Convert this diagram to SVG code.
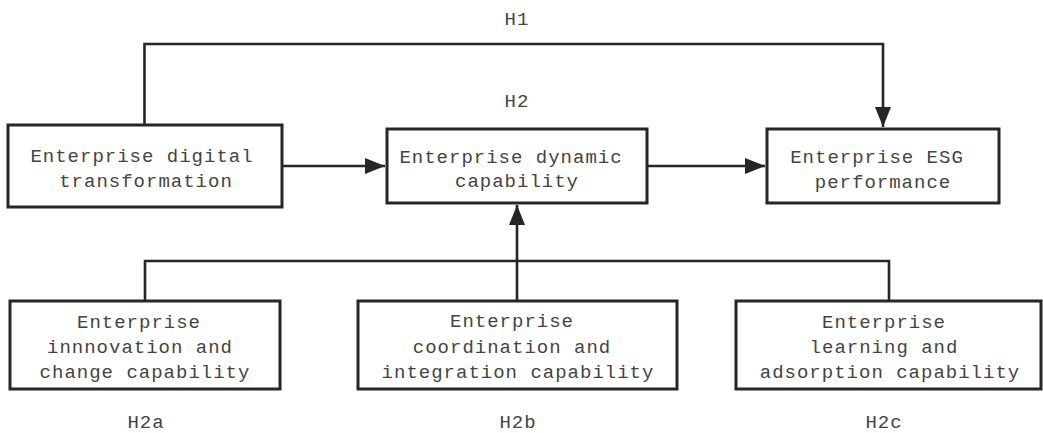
<svg xmlns="http://www.w3.org/2000/svg" width="1043" height="433" viewBox="0 0 1043 433">
<defs>
<style>
.box{fill:#fff;stroke:#262626;stroke-width:3}
.ln{fill:none;stroke:#262626;stroke-width:2.6}
.t{font-family:"Liberation Mono","DejaVu Sans Mono",monospace;font-size:19px;letter-spacing:1px;fill:#444;text-anchor:middle}
.h{font-family:"Liberation Serif","DejaVu Serif",serif;font-size:19px;fill:#444;text-anchor:middle}
</style>
<marker id="ah" viewBox="0 0 10 10" refX="10" refY="5" markerWidth="8" markerHeight="8" markerUnits="userSpaceOnUse" orient="auto">
<path d="M0,0 L10,5 L0,10 z" fill="#262626"/>
</marker>
<marker id="ah2" viewBox="0 0 20 20" refX="20" refY="10" markerWidth="20" markerHeight="20" markerUnits="userSpaceOnUse" orient="auto">
<path d="M0,2 L20,10 L0,18 z" fill="#262626"/>
</marker>
</defs>
<g id="connectors">
<path class="ln" d="M144.5,125 V44 H883 V127" marker-end="url(#ah2)"/>
<path class="ln" d="M282,166 H385" marker-end="url(#ah2)"/>
<path class="ln" d="M647,166 H765" marker-end="url(#ah2)"/>
<path class="ln" d="M517,301 V205" marker-end="url(#ah2)"/>
<path class="ln" d="M145,301 V261 H889 V301"/>
</g>
<g id="n1">
<rect class="box" x="8" y="125" width="274" height="82"/>
<text class="t" x="142" y="162">Enterprise digital</text>
<text class="t" x="146" y="187">transformation</text>
</g>
<g id="n2">
<rect class="box" x="387" y="129" width="260" height="74"/>
<text class="t" x="511" y="163">Enterprise dynamic</text>
<text class="t" x="517" y="187">capability</text>
</g>
<g id="n3">
<rect class="box" x="767" y="129" width="232" height="74"/>
<text class="t" x="877" y="163">Enterprise ESG</text>
<text class="t" x="883" y="188">performance</text>
</g>
<g id="n4">
<rect class="box" x="10" y="301" width="270" height="88"/>
<text class="t" x="139" y="328">Enterprise</text>
<text class="t" x="140" y="353">innnovation and</text>
<text class="t" x="145" y="378">change capability</text>
</g>
<g id="n5">
<rect class="box" x="358" y="301" width="319" height="88"/>
<text class="t" x="512" y="327">Enterprise</text>
<text class="t" x="512" y="353">coordination and</text>
<text class="t" x="518" y="378">integration capability</text>
</g>
<g id="n6">
<rect class="box" x="736" y="301" width="305" height="88"/>
<text class="t" x="884" y="328">Enterprise</text>
<text class="t" x="884" y="353">learning and</text>
<text class="t" x="890" y="378">adsorption capability</text>
</g>
<g id="labels">
<text class="t" x="517" y="25">H1</text>
<text class="t" x="517" y="107">H2</text>
<text class="t" x="146" y="428">H2a</text>
<text class="t" x="518" y="428">H2b</text>
<text class="t" x="884" y="428">H2c</text>
</g>
</svg>
